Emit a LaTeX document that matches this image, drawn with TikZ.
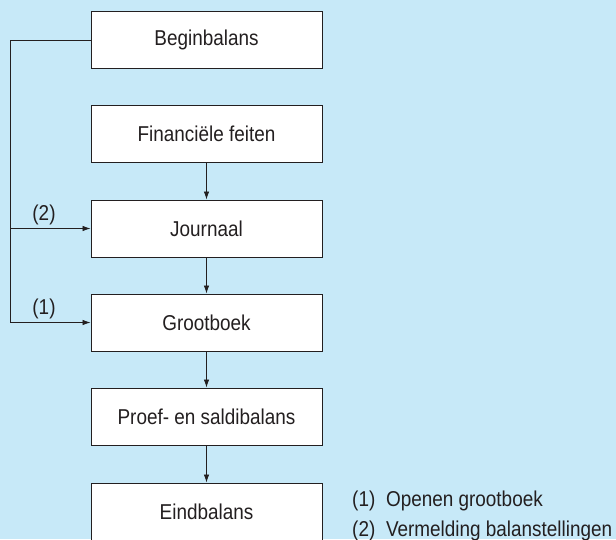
\documentclass[tikz,border=0pt]{standalone}
\usepackage{fontspec}
\setmainfont{Liberation Sans}[FakeStretch=0.88]
\usepackage{tikz}
\usetikzlibrary{arrows.meta}
\definecolor{my_skyblue}{HTML}{C7E9F8}
\definecolor{my_ink}{HTML}{231F20}

\begin{document}
\begin{tikzpicture}[
    x=1pt, y=-1pt,
    line cap=butt,
    >={Latex[length=8pt,width=5.5pt]},
    every node/.style={font=\fontsize{21.5}{26}\selectfont, text=my_ink},
    stagebox/.style={draw=my_ink, line width=0.9pt, fill=white,
        minimum width=231pt, minimum height=57pt, inner sep=0pt},
    flow/.style={->, line width=0.8pt, draw=my_ink}
]

% Page area and background
\useasboundingbox (0,0) rectangle (616,539);
\clip (0,0) rectangle (616,539);
\fill[my_skyblue] (0,0) rectangle (616,539);

% Stages of the bookkeeping cycle
\node[stagebox] (begin)   at (206.5,40)    {Beginbalans};
\node[stagebox] (feiten)  at (206.5,134)   {Financiële feiten};
\node[stagebox] (journal) at (206.5,228.5) {Journaal};
\node[stagebox] (ledger)  at (206.5,322.5) {Grootboek};
\node[stagebox] (proef)   at (206.5,416.5) {Proef- en saldibalans};
\node[stagebox] (eind)    at (206.5,511.5) {Eindbalans};

% Main flow downwards
\draw[flow] (feiten) -- (journal);
\draw[flow] (journal) -- (ledger);
\draw[flow] (ledger) -- (proef);
\draw[flow] (proef) -- (eind);

% Feedback line on the left
\coordinate (side-top) at (10,40);
\coordinate (side-mid) at (10,228.5);
\coordinate (side-bot) at (10,322.5);

\draw[line width=0.8pt, draw=my_ink]
    (begin.west) -- (side-top) -- (side-bot);
\draw[flow] (side-mid) -- (journal.west);
\draw[flow] (side-bot) -- (ledger.west);

% Branch labels
\node (lbl-two) at (44,215) {(2)};
\node (lbl-one) at (44,309) {(1)};

% Legend
\node[anchor=base west, inner sep=0pt] (leg-one) at (352,506.5) {(1)\enspace Openen grootboek};
\node[anchor=base west, inner sep=0pt] (leg-two) at (352,536.5) {(2)\enspace Vermelding balanstellingen};

\end{tikzpicture}
\end{document}
